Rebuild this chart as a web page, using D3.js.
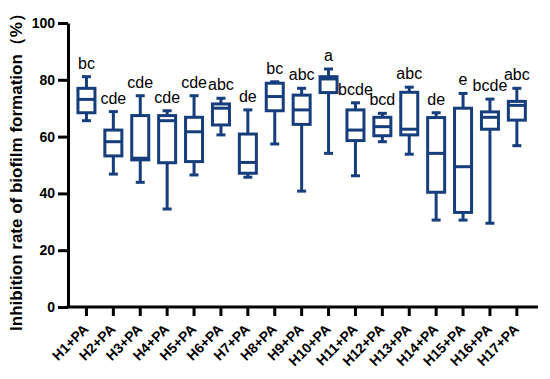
<!DOCTYPE html>
<html>
<head>
<meta charset="utf-8">
<script src="https://cdn.jsdelivr.net/npm/d3@7"></script>
<style>
  body { margin: 0; background: #fff; }
  svg { display: block; font-family: "Liberation Sans", Arial, sans-serif; }
</style>
</head>
<body>
<div id="chart"></div>
<script>
// groups
const categories = ["H1+PA","H2+PA","H3+PA","H4+PA","H5+PA","H6+PA","H7+PA","H8+PA","H9+PA",
  "H10+PA","H11+PA","H12+PA","H13+PA","H14+PA","H15+PA","H16+PA","H17+PA"];
// box plot stats (min / Q1 / median / Q3 / max)
const whiskerLow  = [65.6, 46.8, 43.9, 34.5, 46.5, 60.6, 45.7, 57.4, 40.8, 54.1, 46.2, 58.2, 53.8, 30.6, 30.6, 29.5, 56.8];
const q1          = [68.4, 53.2, 51.8, 50.8, 51.2, 64.1, 47.1, 69.1, 64.3, 75.5, 58.6, 60.3, 60.6, 40.4, 33.3, 62.6, 65.8];
const median      = [73.1, 58.2, 52.4, 65.6, 61.7, 70.0, 50.9, 74.1, 69.4, 80.3, 62.3, 63.5, 62.6, 54.1, 49.4, 66.8, 71.0];
const q3          = [77.0, 62.3, 67.4, 67.4, 66.8, 71.5, 60.9, 78.8, 74.6, 81.1, 69.4, 66.8, 75.6, 66.7, 70.0, 68.7, 72.4];
const whiskerHigh = [81.1, 68.8, 74.4, 69.1, 74.4, 73.5, 69.4, 79.3, 77.0, 83.8, 71.9, 68.2, 77.4, 68.4, 75.2, 73.2, 77.0];
const letters     = ["bc","cde","cde","cde","cde","abc","de","bc","abc","a","bcde","bcd","abc","de","e","bcde","abc"];
const yTicks = [0, 20, 40, 60, 80, 100];

const W = 550, H = 379;
const color = "#163d7c";

const svg = d3.select("#chart").append("svg")
  .attr("width", W)
  .attr("height", H);

const x = d3.scaleBand()
  .domain(categories)
  .range([73, 530.3])
  .padding(0);

const y = d3.scaleLinear()
  .domain([0, 100])
  .range([307, 23]);

const boxW = 17, capW = 9;

let data = categories.map((c, i) => ({
  cat: c, lo: whiskerLow[i], q1: q1[i], med: median[i], q3: q3[i], hi: whiskerHigh[i], lab: letters[i]
}));

// y axis
const yAxis = d3.axisLeft(y).tickValues(yTicks).tickSize(10).tickPadding(3).tickSizeOuter(0);
const gy = svg.append("g")
  .attr("transform", "translate(68,0)")
  .call(yAxis);
gy.select(".domain").attr("stroke-width", 3);
gy.selectAll(".tick line").attr("stroke-width", 3);
gy.selectAll(".tick text")
  .attr("font-size", 14).attr("font-weight", "bold").attr("fill", "#000")
  .attr("font-family", "Liberation Sans, Arial, sans-serif");

// x axis
const xAxis = d3.axisBottom(x).tickSize(9).tickSizeOuter(0).tickFormat("");
const gx = svg.append("g")
  .attr("transform", "translate(0," + y(0) + ")")
  .call(xAxis);
gx.select(".domain").attr("d", "M66.5,0H538").attr("stroke-width", 3);
gx.selectAll(".tick line").attr("stroke-width", 3);

// rotated category labels
svg.append("g").selectAll("text")
  .data(categories)
  .enter().append("text")
  .attr("text-anchor", "end")
  .attr("font-size", 14)
  .attr("font-weight", "bold")
  .attr("transform", d => "translate(" + (x(d) + x.bandwidth() / 2 + 3) + "," + (y(0) + 23) + ") rotate(-45)")
  .text(d => d);

// boxes
const g = svg.append("g")
  .attr("fill", "none")
  .attr("stroke", color)
  .attr("stroke-width", 3);

const box = g.selectAll("g.box")
  .data(data)
  .enter().append("g")
  .attr("class", "box")
  .attr("transform", d => "translate(" + (x(d.cat) + x.bandwidth() / 2) + ",0)");

// whiskers
box.append("line")
  .attr("x1", 0).attr("x2", 0)
  .attr("y1", d => y(d.hi)).attr("y2", d => y(d.q3));
box.append("line")
  .attr("x1", 0).attr("x2", 0)
  .attr("y1", d => y(d.q1)).attr("y2", d => y(d.lo));
box.append("line")
  .attr("x1", -capW / 2).attr("x2", capW / 2)
  .attr("y1", d => y(d.hi)).attr("y2", d => y(d.hi));
box.append("line")
  .attr("x1", -capW / 2).attr("x2", capW / 2)
  .attr("y1", d => y(d.lo)).attr("y2", d => y(d.lo));

box.append("rect")
  .attr("x", -boxW / 2)
  .attr("width", boxW)
  .attr("y", d => y(d.q3))
  .attr("height", d => y(d.q1) - y(d.q3))
  .attr("fill", "#fff");

box.append("line")
  .attr("x1", -boxW / 2).attr("x2", boxW / 2)
  .attr("y1", d => y(d.med)).attr("y2", d => y(d.med));

// significance letters
svg.append("g").selectAll("text")
  .data(data)
  .enter().append("text")
  .attr("x", d => x(d.cat) + x.bandwidth() / 2)
  .attr("y", d => y(d.hi) - 8)
  .attr("text-anchor", "middle")
  .attr("font-size", 16)
  .attr("fill", "#000")
  .text(d => d.lab);

// y title
svg.append("text")
  .attr("transform", "translate(22," + 168 + ") rotate(-90)")
  .attr("text-anchor", "middle")
  .attr("font-size", 17)
  .attr("font-weight", "bold")
  .text("Inhibition rate of biofilm formation（%）");
</script>
</body>
</html>
